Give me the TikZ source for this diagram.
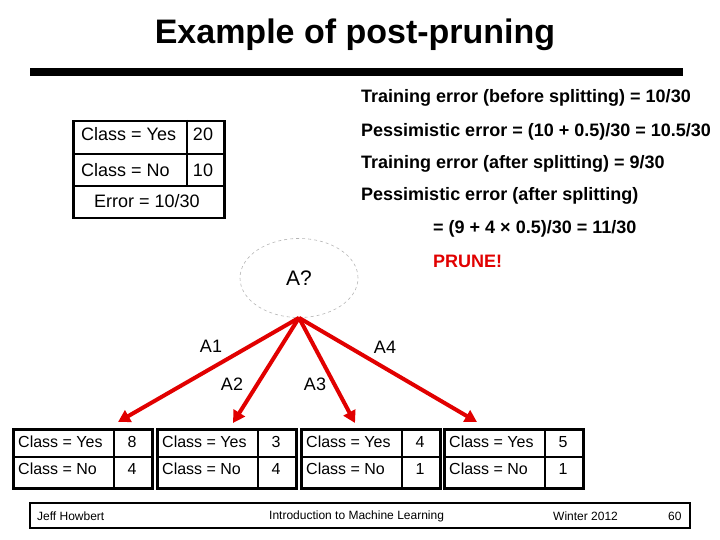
\documentclass[tikz,border=0pt]{standalone}
\usepackage{fontspec}
\setmainfont{Liberation Sans}
\usepackage{tikz}
\usetikzlibrary{arrows.meta,shapes.geometric}
\definecolor{prunered}{HTML}{E10000}
\definecolor{nodegray}{HTML}{B4B4B4}

\begin{document}
\begin{tikzpicture}[x=1pt,y=-1pt,inner sep=0pt,
    bigbold/.style={font=\fontsize{18}{21}\selectfont\bfseries},
    cell/.style={font=\fontsize{18}{21}\selectfont},
    leafcell/.style={font=\fontsize{16}{19}\selectfont},
    edgelabel/.style={font=\fontsize{18}{21}\selectfont},
    footnote/.style={font=\fontsize{12}{14}\selectfont,anchor=west},
    leafbox/.style={draw,line width=3pt,minimum width=139pt,minimum height=59pt,anchor=north west},
    branch/.style={prunered,line width=4pt,-{Triangle[length=12pt,width=13pt]}}]
    \useasboundingbox (0,0) rectangle (720,540);
    % title and rule
    \node[font={\fontsize{34}{40}\selectfont\bfseries}] (title) at (355,35) {Example of post-pruning};
    \fill (30,68) rectangle (683,76);
    % error estimates
    \node[bigbold,anchor=west] (trainpre) at (361,98) {Training error (before splitting) = 10/30};
    \node[bigbold,anchor=west] (pesspre) at (361,132) {Pessimistic error = (10 + 0.5)/30 = 10.5/30};
    \node[bigbold,anchor=west] (trainpost) at (361,164) {Training error (after splitting) = 9/30};
    \node[bigbold,anchor=west] (pesspost) at (361,196) {Pessimistic error (after splitting)};
    \node[bigbold,anchor=west] (pessval) at (433,229) {= (9 + 4 × 0.5)/30 = 11/30};
    \node[bigbold,anchor=west,prunered] (prune) at (433,261) {PRUNE!};
    % parent counts
    \node[draw,line width=2.5pt,minimum width=151pt,minimum height=97pt,anchor=north west] (parent) at (72,120) {};
    \draw[line width=1.5pt] (72,154) -- (223,154);
    \draw[line width=1.5pt] (72,186) -- (223,186);
    \draw[line width=1.5pt] (187,120) -- (187,186);
    \node[cell,anchor=west] (pyes) at (81,134) {Class = Yes};
    \node[cell] (pyesn) at (203,134) {20};
    \node[cell,anchor=west] (pno) at (81,170) {Class = No};
    \node[cell] (pnon) at (203,170) {10};
    \node[cell] (perr) at (147,201) {Error = 10/30};
    % split node
    \node[ellipse,draw=nodegray,dashed,line width=0.6pt,minimum width=118pt,minimum height=79pt,
      font=\fontsize{21}{24}\selectfont] (root) at (299,278) {A?};
    % leaves
    \foreach \i/\x/\yes/\no in {1/12/8/4,2/156/3/4,3/300/4/1,4/443/5/1}{
      \node[leafbox] (leaf\i) at (\x,428) {};
      \draw[line width=2pt] (\x,456.5) -- (\x+139,456.5);
      \draw[line width=2pt] (\x+102,428) -- (\x+102,487);
      \node[leafcell,anchor=west] (yes\i) at (\x+6,442) {Class = Yes};
      \node[leafcell] (yesn\i) at (\x+120,442) {\yes};
      \node[leafcell,anchor=west] (no\i) at (\x+6,469) {Class = No};
      \node[leafcell] (non\i) at (\x+120,469) {\no};
    }
    \coordinate (tip1) at (118,422);
    \coordinate (tip2) at (233,423);
    \coordinate (tip3) at (355,423);
    \coordinate (tip4) at (477,422);
    \foreach \i in {1,...,4}
      \draw[branch] (root.south) -- (tip\i);
    \node[edgelabel] (a1) at (211,346) {A1};
    \node[edgelabel] (a2) at (232,384) {A2};
    \node[edgelabel] (a3) at (315,384) {A3};
    \node[edgelabel] (a4) at (385,347) {A4};
    % footer
    \node[draw,line width=1.5pt,minimum width=660pt,minimum height=25pt] (footer) at (360,515.5) {};
    \node[footnote] (author) at (37,516) {Jeff Howbert};
    \node[footnote] (course) at (269,516) {Introduction to Machine Learning};
    \node[footnote] (term) at (553,516) {Winter 2012};
    \node[footnote] (page) at (668,516) {60};
  \end{tikzpicture}
\end{document}
